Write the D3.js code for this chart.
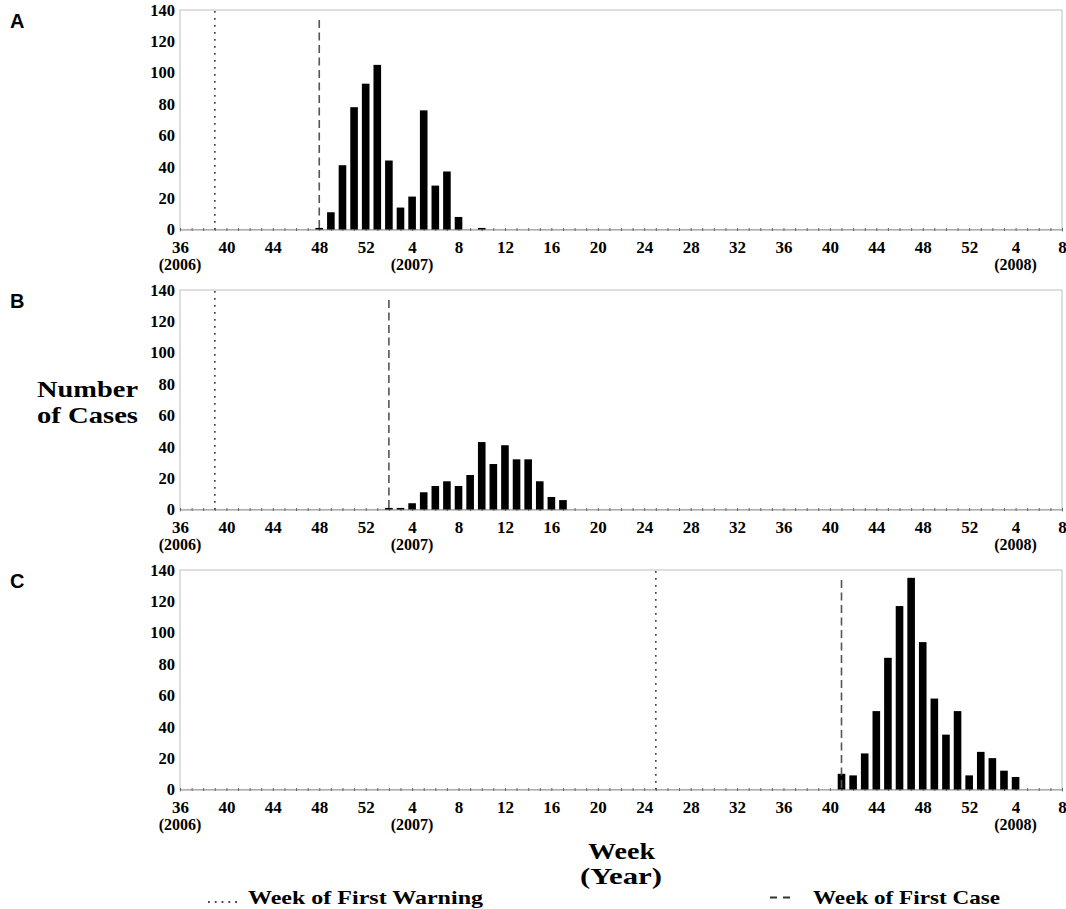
<!DOCTYPE html>
<html>
<head>
<meta charset="utf-8">
<script src="https://cdn.jsdelivr.net/npm/d3@7"></script>
<style>
  body { margin: 0; background: #fff; }
  svg text { font-family: "Liberation Serif", "Times New Roman", serif; font-weight: bold; fill: #000; }
</style>
</head>
<body>
<div id="chart"></div>
<script>
const weeksA = ['2006-48','2006-49','2006-50','2006-51','2006-52','2007-01','2007-02','2007-03',
  '2007-04','2007-05','2007-06','2007-07','2007-08','2007-10'];
const casesA = [1, 11, 41, 78, 93, 105, 44, 14, 21, 76, 28, 37, 8, 1];

const weeksB = ['2007-02','2007-03','2007-04','2007-05','2007-06','2007-07','2007-08','2007-09',
  '2007-10','2007-11','2007-12','2007-13','2007-14','2007-15','2007-16','2007-17'];
const casesB = [1, 1, 4, 11, 15, 18, 15, 22, 43, 29, 41, 32, 32, 18, 8, 6];

const weeksC = ['2007-41','2007-42','2007-43','2007-44','2007-45','2007-46','2007-47','2007-48',
  '2007-49','2007-50','2007-51','2007-52','2008-01','2008-02','2008-03','2008-04'];
const casesC = [10, 9, 23, 50, 84, 117, 135, 94, 58, 35, 50, 9, 24, 20, 12, 8];

const panelLabels = ['A', 'B', 'C'];
const firstWarning = ['2006-39', '2006-39', '2007-25'];
const firstCase = ['2006-48', '2007-02', '2007-41'];

const yTicks = [0, 20, 40, 60, 80, 100, 120, 140];
const yearLabels = [['2006-36', '(2006)'], ['2007-04', '(2007)'], ['2008-04', '(2008)']];

// week 36 of 2006 is index 0, 52 weeks a year
function weekIndex(s) {
  const [yr, wk] = s.split('-').map(Number);
  return (yr - 2006) * 52 + wk - 36;
}
function weekNumber(i) {
  return ((i + 35) % 52) + 1;
}

const width = 1066, height = 909;
const svg = d3.select('#chart').append('svg')
  .attr('width', width)
  .attr('height', height);

const x = d3.scaleLinear().domain([0, 76]).range([180, 1062]);
const barW = 7.6;
const panelH = 219.5;
const tops = [10, 290, 570];

const panels = [
  { weeks: weeksA, cases: casesA },
  { weeks: weeksB, cases: casesB },
  { weeks: weeksC, cases: casesC }
];

panels.forEach((p, k) => {
  const top = tops[k];
  const bottom = top + panelH;
  const y = d3.scaleLinear().domain([0, 140]).range([bottom, top]);
  const g = svg.append('g');

  // frame
  g.append('rect')
    .attr('x', x(0)).attr('y', top)
    .attr('width', x(76) - x(0)).attr('height', panelH)
    .attr('fill', 'none').attr('stroke', '#c8c8c8').attr('stroke-width', 1.2);

  // panel letter
  g.append('text')
    .attr('x', 10).attr('y', top + 18)
    .style('font-family', '"Liberation Sans", Arial, sans-serif')
    .style('font-size', '20px')
    .text(panelLabels[k]);

  // y axis labels only
  const yAxis = g.append('g')
    .attr('transform', `translate(${x(0)},0)`)
    .call(d3.axisLeft(y).tickValues(yTicks).tickSize(0).tickPadding(5));
  yAxis.select('.domain').remove();
  yAxis.selectAll('text')
    .attr('font-size', 16.5)
    .attr('fill', '#000');

  // minor week ticks on baseline
  const minor = g.append('g')
    .attr('transform', `translate(0,${bottom})`)
    .call(d3.axisBottom(x).tickValues(d3.range(0, 77)).tickSize(2).tickFormat(''));
  minor.select('.domain').attr('stroke', '#999').attr('stroke-width', 1.2);
  minor.selectAll('.tick line').attr('stroke', '#666').attr('y1', -1.5).attr('y2', 1.5);

  // major week labels
  const major = g.append('g')
    .attr('transform', `translate(0,${bottom})`)
    .call(d3.axisBottom(x).tickValues(d3.range(0, 77, 4)).tickSize(0).tickPadding(11)
      .tickFormat(weekNumber));
  major.select('.domain').remove();
  major.selectAll('text')
    .attr('font-size', 17)
    .attr('fill', '#000');

  // year labels
  g.selectAll('text.year')
    .data(yearLabels)
    .enter().append('text')
    .attr('class', 'year')
    .attr('x', d => x(weekIndex(d[0])))
    .attr('y', bottom + 40.5)
    .attr('text-anchor', 'middle')
    .style('font-size', '16px')
    .text(d => d[1]);

  // bars
  g.selectAll('rect.bar')
    .data(p.weeks.map((w, i) => ({ idx: weekIndex(w), v: p.cases[i] })))
    .enter().append('rect')
    .attr('class', 'bar')
    .attr('x', d => x(d.idx) - barW / 2)
    .attr('y', d => y(d.v))
    .attr('width', barW)
    .attr('height', d => y(0) - y(d.v))
    .attr('fill', '#000');

  // week of first warning
  g.append('line')
    .attr('x1', x(weekIndex(firstWarning[k]))).attr('x2', x(weekIndex(firstWarning[k])))
    .attr('y1', top + 1).attr('y2', bottom)
    .attr('stroke', '#444').attr('stroke-width', 1.7)
    .attr('stroke-dasharray', '1.7,5.3');

  // week of first case
  g.append('line')
    .attr('x1', x(weekIndex(firstCase[k]))).attr('x2', x(weekIndex(firstCase[k])))
    .attr('y1', top + 10).attr('y2', bottom)
    .attr('stroke', '#555').attr('stroke-width', 1.6)
    .attr('stroke-dasharray', '8,4.5');
});

// axis titles
svg.append('text').attr('x', 37).attr('y', 397)
  .attr('textLength', 101).attr('lengthAdjust', 'spacingAndGlyphs')
  .style('font-size', '23px').text('Number');
svg.append('text').attr('x', 37).attr('y', 423)
  .attr('textLength', 101).attr('lengthAdjust', 'spacingAndGlyphs')
  .style('font-size', '23px').text('of Cases');

svg.append('text').attr('x', 588).attr('y', 859)
  .attr('textLength', 67).attr('lengthAdjust', 'spacingAndGlyphs')
  .style('font-size', '23px').text('Week');
svg.append('text').attr('x', 580).attr('y', 884)
  .attr('textLength', 82).attr('lengthAdjust', 'spacingAndGlyphs')
  .style('font-size', '23px').text('(Year)');

// legend
svg.append('line')
  .attr('x1', 208).attr('x2', 240).attr('y1', 902).attr('y2', 902)
  .attr('stroke', '#444').attr('stroke-width', 1.8)
  .attr('stroke-dasharray', '1.8,5');
svg.append('text').attr('x', 248).attr('y', 904)
  .attr('textLength', 235).attr('lengthAdjust', 'spacingAndGlyphs')
  .style('font-size', '19px').text('Week of First Warning');

svg.append('line')
  .attr('x1', 770).attr('x2', 790).attr('y1', 897.5).attr('y2', 897.5)
  .attr('stroke', '#333').attr('stroke-width', 2)
  .attr('stroke-dasharray', '7,6');
svg.append('text').attr('x', 813).attr('y', 904)
  .attr('textLength', 187).attr('lengthAdjust', 'spacingAndGlyphs')
  .style('font-size', '19px').text('Week of First Case');
</script>
</body>
</html>
